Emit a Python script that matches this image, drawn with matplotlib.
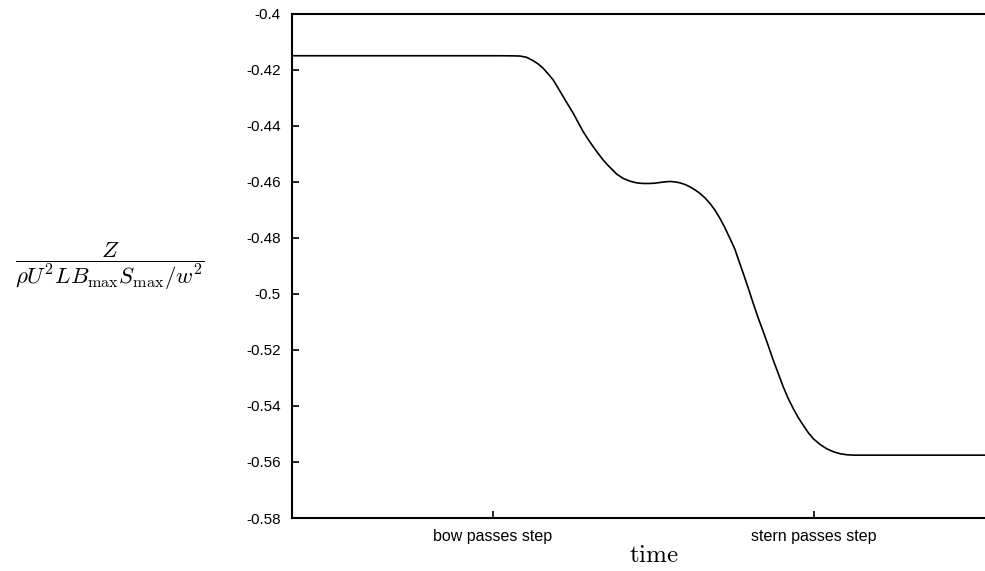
import matplotlib
matplotlib.use("Agg")
import matplotlib.pyplot as plt

plt.rcParams['mathtext.fontset'] = 'cm'
plt.rcParams['font.family'] = ['Liberation Sans', 'DejaVu Sans']

# Time in units where the bow passes the step at 0 and the stern at 1
time = [-0.6262, -0.0405, 0.0218, 0.0623, 0.0841, 0.1050, 0.1255, 0.1411,
        0.1567, 0.1723, 0.1879, 0.2034, 0.2190, 0.2346, 0.2502, 0.2657,
        0.2813, 0.2969, 0.3125, 0.3280, 0.3436, 0.3592, 0.3748, 0.3854,
        0.4059, 0.4268, 0.4477, 0.4682, 0.4891, 0.5047, 0.5202, 0.5358,
        0.5514, 0.5670, 0.5826, 0.5981, 0.6137, 0.6293, 0.6449, 0.6604,
        0.6760, 0.6916, 0.7072, 0.7227, 0.7383, 0.7539, 0.7642, 0.7798,
        0.7953, 0.8109, 0.8265, 0.8421, 0.8576, 0.8732, 0.8888, 0.9044,
        0.9199, 0.9355, 0.9511, 0.9667, 0.9822, 0.9978, 1.0187, 1.0396,
        1.0604, 1.0810, 1.1019, 1.1224, 1.6260]
# Non-dimensional vertical force
force = [-0.41507, -0.41507, -0.41507, -0.41511, -0.41518, -0.41564,
         -0.41686, -0.41804, -0.41957, -0.42161, -0.42375, -0.42671,
         -0.42971, -0.43268, -0.43564, -0.43893, -0.44221, -0.44500,
         -0.44757, -0.45000, -0.45232, -0.45429, -0.45607, -0.45732,
         -0.45886, -0.45982, -0.46043, -0.46064, -0.46064, -0.46054,
         -0.46029, -0.46007, -0.45993, -0.46007, -0.46043, -0.46100,
         -0.46186, -0.46293, -0.46421, -0.46579, -0.46779, -0.47018,
         -0.47314, -0.47650, -0.48029, -0.48421, -0.48768, -0.49279,
         -0.49804, -0.50350, -0.50875, -0.51357, -0.51857, -0.52375,
         -0.52850, -0.53329, -0.53743, -0.54100, -0.54421, -0.54696,
         -0.54957, -0.55171, -0.55375, -0.55529, -0.55636, -0.55707,
         -0.55743, -0.55757, -0.55757]

xtick_pos = [0.0, 1.0]
xtick_labels = ["bow passes step", "stern passes step"]
ytick_vals = [-0.4, -0.42, -0.44, -0.46, -0.48, -0.5, -0.52, -0.54, -0.56, -0.58]
ytick_labels = ["-0.4", "-0.42", "-0.44", "-0.46", "-0.48", "-0.5",
                "-0.52", "-0.54", "-0.56", "-0.58"]

W, H = 985, 571
fig = plt.figure(figsize=(W / 100, H / 100), dpi=100)
left, right, top, bottom = 292, 1015, 13.5, 518
ax = fig.add_axes([left / W, 1 - bottom / H, (right - left) / W, (bottom - top) / H])

ax.plot(time, force, color='black', lw=1.2, solid_joinstyle='round')

ax.set_xlim(-0.626, 1.626)
ax.set_ylim(-0.58, -0.4)
ax.set_xticks(xtick_pos)
ax.set_xticklabels(xtick_labels, fontsize=11.5)
ax.set_yticks(ytick_vals)
ax.set_yticklabels(ytick_labels, fontsize=11)
ax.tick_params(axis='both', direction='in', length=5, width=1.2)
ax.tick_params(axis='x', pad=8)
ax.tick_params(axis='y', pad=8)
for s in ax.spines.values():
    s.set_linewidth(1.5)

fig.text(653.5 / W, 1 - 555 / H, r'$\mathrm{time}$', fontsize=18,
         ha='center', va='center')
fig.text(110 / W, 1 - 266 / H,
         r'$\dfrac{Z}{\rho U^2 L B_{\max} S_{\max}/w^2}$', fontsize=16.5,
         ha='center', va='center')

fig.savefig('out.png', dpi=100)
